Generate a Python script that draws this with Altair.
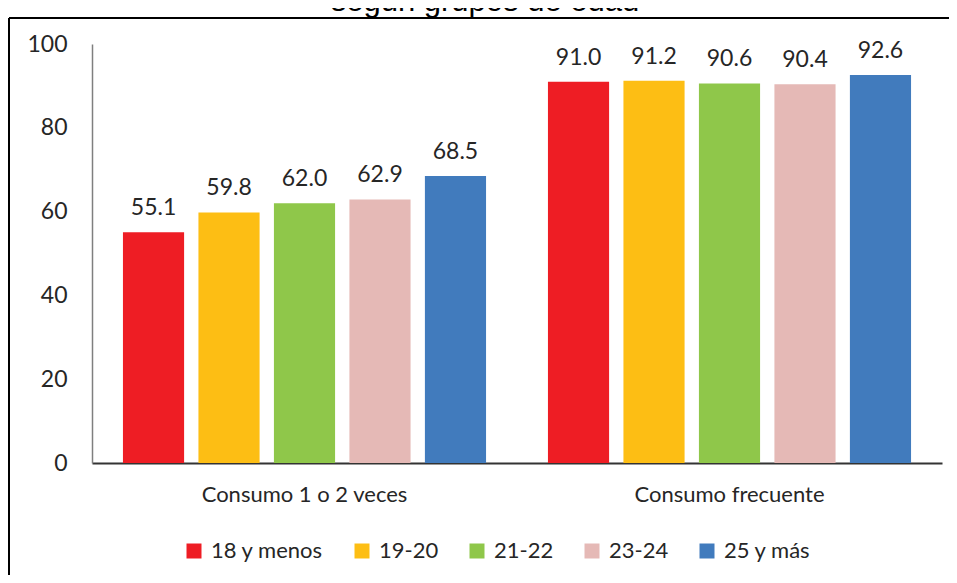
import altair as alt
import pandas as pd

grupos = ["Consumo 1 o 2 veces", "Consumo frecuente"]
edades = ["18 y menos", "19-20", "21-22", "23-24", "25 y más"]
valores_1o2 = [55.1, 59.8, 62.0, 62.9, 68.5]
valores_frec = [91.0, 91.2, 90.6, 90.4, 92.6]
colores = ["#EE1D24", "#FDBE14", "#8FC74A", "#E5B9B6", "#417BBD"]
titulo = "según grupos de edad"
y_ticks = [0, 20, 40, 60, 80, 100]

rows = []
for g, vals in zip(grupos, [valores_1o2, valores_frec]):
    for e, v in zip(edades, vals):
        rows.append({"grupo": g, "edad": e, "valor": v, "etiqueta": f"{v:.1f}"})
df = pd.DataFrame(rows)

FONT = "Lato"
FS = 23
TEXT_COLOR = "#262626"

x_enc = alt.X("grupo:N", sort=grupos,
              scale=alt.Scale(paddingInner=0, paddingOuter=0),
              axis=alt.Axis(title=None, labelAngle=0, ticks=False, labelPadding=21,
                            labelLimit=0,
                            domainColor="#333333", domainWidth=2,
                            labelFont=FONT, labelFontSize=22, labelColor=TEXT_COLOR))
xoff_enc = alt.XOffset("edad:N", sort=edades,
                       scale=alt.Scale(paddingInner=0.19, paddingOuter=0.41))
y_enc = alt.Y("valor:Q",
              scale=alt.Scale(domain=[0, 100], nice=False),
              axis=alt.Axis(title=None, values=y_ticks, ticks=False, grid=False,
                            labelPadding=25, domainColor="#7F7F7F", domainWidth=1.5,
                            labelFont=FONT, labelFontSize=FS, labelColor=TEXT_COLOR))

bars = alt.Chart(df).mark_bar().encode(
    x=x_enc,
    xOffset=xoff_enc,
    y=y_enc,
    color=alt.Color("edad:N", sort=edades,
                    scale=alt.Scale(domain=edades, range=colores),
                    legend=alt.Legend(title=None, orient="none", direction="horizontal",
                                      legendX=91, legendY=496,
                                      symbolType="square", symbolSize=225,
                                      symbolStrokeWidth=0, labelOffset=6,
                                      columnPadding=27, labelLimit=0,
                                      labelFont=FONT, labelFontSize=22,
                                      labelColor=TEXT_COLOR)),
)

labels = alt.Chart(df).mark_text(dy=-17, baseline="alphabetic", font=FONT,
                                 fontSize=FS, color=TEXT_COLOR).encode(
    x=alt.X("grupo:N", sort=grupos),
    xOffset=alt.XOffset("edad:N", sort=edades),
    y="valor:Q",
    text="etiqueta:N",
)

one = pd.DataFrame({"t": [titulo]})
top_border = alt.Chart(one).mark_rule(color="#000000", strokeWidth=2).encode(
    x=alt.value(-83), x2=alt.value(900), y=alt.value(-26))
left_border = alt.Chart(one).mark_rule(color="#000000", strokeWidth=2).encode(
    x=alt.value(-83), y=alt.value(-26), y2=alt.value(600))
title_text = alt.Chart(one).mark_text(font="Liberation Sans", fontSize=31,
                                      baseline="alphabetic", align="center",
                                      color="#000000").encode(
    x=alt.value(393), y=alt.value(-33), text="t:N")

chart = alt.layer(bars, labels, top_border, left_border, title_text).properties(
    width=850, height=419,
    autosize=alt.AutoSizeParams(type="none"),
    padding={"left": 84, "top": 36, "right": 7, "bottom": 112},
    background="white",
).configure_view(stroke=None)

chart.save("out.html", embed_options={"renderer": "svg", "actions": False})
